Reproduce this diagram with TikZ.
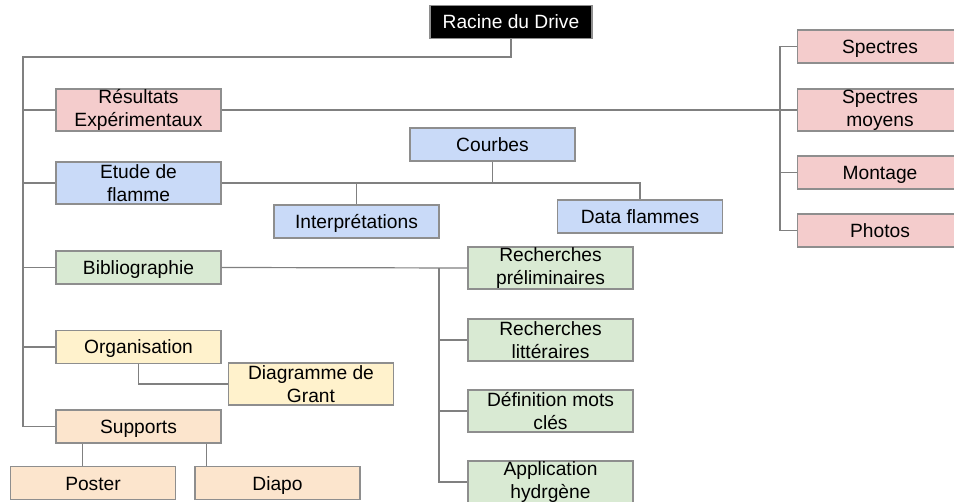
\documentclass[tikz,border=0pt]{standalone}
\usepackage{fontspec}
\setmainfont{Liberation Sans}
\definecolor{rose}{HTML}{F4CCCC}
\definecolor{bleu}{HTML}{C9DAF8}
\definecolor{vert}{HTML}{D9EAD3}
\definecolor{jaune}{HTML}{FFF2CC}
\definecolor{orange}{HTML}{FCE5CD}
\definecolor{bord}{HTML}{8E8E8E}
\definecolor{trait}{HTML}{808080}
\tikzset{
    BX/.style ={rectangle, draw=bord, line width=0.9pt, minimum width=123.75pt, minimum height=24.75pt,
                inner sep=0pt, align=center, text height=10.5pt, text depth=0pt,
                font=\fontsize{14.4}{17.25}\selectfont},
    BX2/.style ={BX, minimum height=31.5pt, text height=, text depth=},
    RO/.style ={fill=rose},
    BL/.style ={fill=bleu},
    VE/.style ={fill=vert},
    JA/.style ={fill=jaune},
    OR/.style ={fill=orange},
    LN/.style ={draw=trait, line width=0.9pt}}

\begin{document}
\begin{tikzpicture}[x=0.75pt,y=-0.75pt]
    \useasboundingbox (0,0) rectangle (954,502);
    \clip (0,0) rectangle (954,502);
    % racine
    \node[BX, fill=black, text=white, minimum width=121.5pt] (racine) at (511,22) {Racine du Drive};
    % colonne de gauche
    \node[BX2,RO] (res) at (138.5,110) {Résultats\\Expérimentaux};
    \node[BX2,BL] (etu) at (138.5,183) {Etude de\\flamme};
    \node[BX,VE]  (bib) at (138.5,267.5) {Bibliographie};
    \node[BX,JA]  (org) at (138.5,347) {Organisation};
    \node[BX,OR]  (sup) at (138.5,426.5) {Supports};
    % etude de flamme
    \node[BX,BL] (cou) at (492.5,144.5) {Courbes};
    \node[BX,BL] (int) at (356.5,221.5) {Interprétations};
    \node[BX,BL] (dat) at (640,216.5) {Data flammes};
    % organisation, supports
    \node[BX2,JA] (gra) at (311,384) {Diagramme de\\Grant};
    \node[BX,OR]  (pos) at (93,483) {Poster};
    \node[BX,OR]  (dia) at (277.5,483) {Diapo};
    % resultats
    \node[BX,RO]  (spe) at (880,46.5) {Spectres};
    \node[BX2,RO] (moy) at (880,110) {Spectres\\moyens};
    \node[BX,RO]  (mon) at (880,172.5) {Montage};
    \node[BX,RO]  (pho) at (880,230.5) {Photos};
    % bibliographie
    \node[BX2,VE] (pre) at (550.5,268) {Recherches\\préliminaires};
    \node[BX2,VE] (lit) at (550.5,340) {Recherches\\littéraires};
    \node[BX2,VE] (def) at (550.5,411) {Définition mots\\clés};
    \node[BX2,VE] (app) at (550.5,482) {Application\\hydrgène};

    \coordinate (tl) at (23,57);
    \coordinate (rt) at (780,0);
    \coordinate (bt) at (439,268);

    % liens
    \draw[LN] (racine.south) |- (tl) -- (tl |- sup.west) -- (sup.west);
    \draw[LN] (tl |- res.west) -- (res.west);
    \draw[LN] (tl |- etu.west) -- (etu.west);
    \draw[LN] (tl |- bib.west) -- (bib.west);
    \draw[LN] (tl |- org.west) -- (org.west);

    \draw[LN] (res.east) -- (moy.west);
    \draw[LN] (spe.west) -- (spe.west -| rt) -- (pho.west -| rt) -- (pho.west);
    \draw[LN] (mon.west -| rt) -- (mon.west);

    \draw[LN] (etu.east) -- (etu.east -| dat.north) -- (dat.north);
    \draw[LN] (cou.south) -- (cou.south |- etu.east);
    \draw[LN] (int.north) -- (int.north |- etu.east);

    \draw[LN] (bib.east) -- (pre.west);
    \draw[LN] (bt) |- (app.west);
    \draw[LN] (bt |- lit.west) -- (lit.west);
    \draw[LN] (bt |- def.west) -- (def.west);

    \draw[LN] (org.south) |- (gra.west);
    \draw[LN] (sup.south west) ++(27,0) coordinate (s1) -- (s1 |- pos.north);
    \draw[LN] (sup.south east) ++(-15,0) coordinate (s2) -- (s2 |- dia.north);
\end{tikzpicture}
\end{document}
